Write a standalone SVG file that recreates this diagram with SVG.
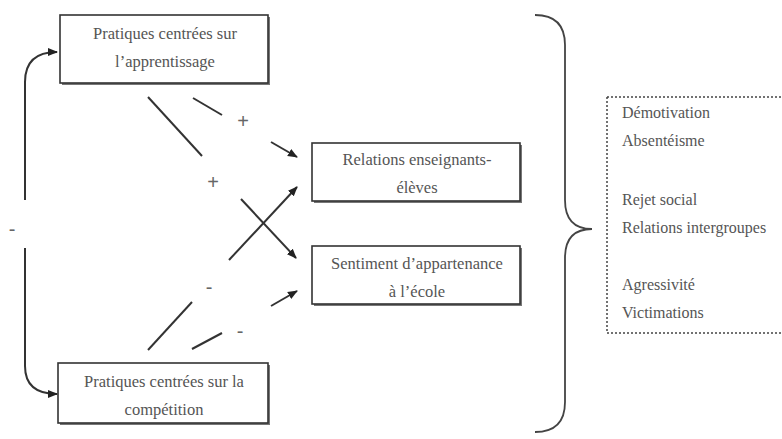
<svg xmlns="http://www.w3.org/2000/svg" width="782" height="439" viewBox="0 0 782 439">
<defs>
<style>
.box{fill:#fff;stroke:#333;stroke-width:1.6}
.sh{fill:#777}
text{font-family:'Liberation Serif','Times New Roman',serif}
.t{font-size:16.5px;fill:#555;text-anchor:middle}
.l{font-size:16px;fill:#555}
.c{fill:none;stroke:#333;stroke-width:2}
.sg{font-family:'Liberation Sans',Arial,sans-serif;font-size:20px;fill:#666;text-anchor:middle}
</style>
<marker id="ah" viewBox="0 0 10 10" refX="9" refY="5" markerWidth="5" markerHeight="5" orient="auto" markerUnits="strokeWidth">
<path d="M0,1 L10,5 L0,9 z" fill="#222"/>
</marker>
</defs>
<rect width="782" height="439" fill="#fff"/>
<g id="n-apprentissage">
<rect class="sh" x="62" y="17" width="208" height="68"/>
<rect class="box" x="60" y="15" width="208" height="68"/>
<text class="t" x="165" y="39">Pratiques centrées sur</text>
<text class="t" x="165" y="67">l’apprentissage</text>
</g>
<g id="n-competition">
<rect class="sh" x="60" y="365" width="210" height="60"/>
<rect class="box" x="58" y="363" width="210" height="60"/>
<text class="t" x="164" y="387">Pratiques centrées sur la</text>
<text class="t" x="164" y="415">compétition</text>
</g>
<g id="n-relations">
<rect class="sh" x="314" y="145" width="208" height="58"/>
<rect class="box" x="312" y="143" width="208" height="58"/>
<text class="t" x="417" y="165">Relations enseignants-</text>
<text class="t" x="417" y="193">élèves</text>
</g>
<g id="n-sentiment">
<rect class="sh" x="314" y="248" width="208" height="58"/>
<rect class="box" x="312" y="246" width="208" height="58"/>
<text class="t" x="417" y="269">Sentiment d’appartenance</text>
<text class="t" x="417" y="297">à l’école</text>
</g>
<g id="n-outcomes">
<path d="M607,97 H782 M607,333 H782 M607,97 V333" fill="none" stroke="#444" stroke-width="1.5" stroke-dasharray="2,2"/>
<text class="l" x="622" y="118">Démotivation</text>
<text class="l" x="622" y="146">Absentéisme</text>
<text class="l" x="622" y="205">Rejet social</text>
<text class="l" x="622" y="233">Relations intergroupes</text>
<text class="l" x="622" y="290">Agressivité</text>
<text class="l" x="622" y="318">Victimations</text>
</g>
<g id="connectors">
<path class="c" d="M25,200 V82 Q25,52 57,52" marker-end="url(#ah)"/>
<path class="c" d="M25,248 V366 Q25,394 57,394" marker-end="url(#ah)"/>
<path class="c" d="M193,98 L222,115"/>
<path class="c" d="M271,142 L297,157" marker-end="url(#ah)"/>
<path class="c" d="M148,97 L202,156"/>
<path class="c" d="M241,199 L296,258" marker-end="url(#ah)"/>
<path class="c" d="M148,350 L192,302"/>
<path class="c" d="M229,260 L297,187" marker-end="url(#ah)"/>
<path class="c" d="M192,349 L222,333"/>
<path class="c" d="M271,306 L297,291" marker-end="url(#ah)"/>
<path d="M535,15 Q565,15 565,45 V200 Q565,229 592,229 Q565,229 565,258 V402 Q565,432 535,432" fill="none" stroke="#444" stroke-width="1.8"/>
</g>
<g id="labels">
<text class="sg" x="243" y="128">+</text>
<text class="sg" x="213" y="189">+</text>
<text class="sg" x="12" y="236">-</text>
<text class="sg" x="209" y="294">-</text>
<text class="sg" x="240" y="338">-</text>
</g>
</svg>
